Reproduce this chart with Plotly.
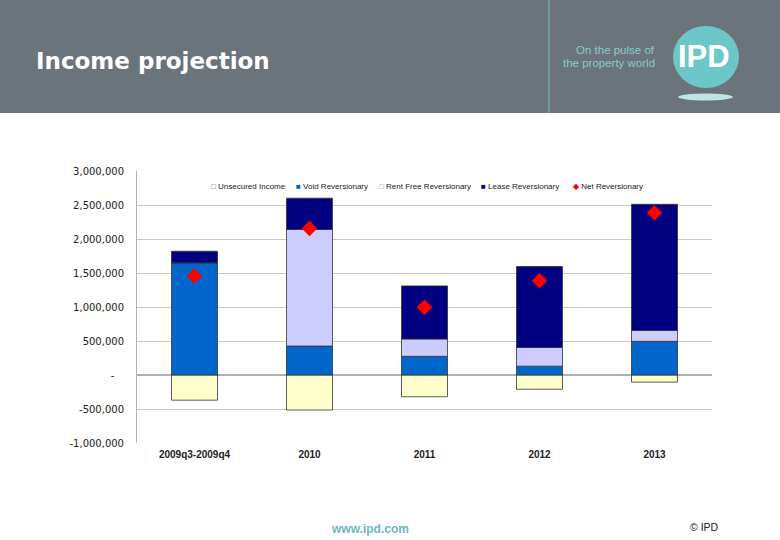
import plotly.graph_objects as go

categories = ["2009q3-2009q4", "2010", "2011", "2012", "2013"]
series_names = ["Unsecured Income", "Void Reversionary", "Rent Free Reversionary",
                "Lease Reversionary", "Net Reversionary"]
unsecured_income = [-370000, -515000, -320000, -210000, -105000]
void_reversionary = [1650000, 425000, 275000, 130000, 495000]
rent_free_reversionary = [0, 1715000, 255000, 275000, 160000]
lease_reversionary = [170000, 460000, 780000, 1190000, 1855000]
net_reversionary = [1455000, 2155000, 995000, 1385000, 2385000]

tick_vals = [-1000000, -500000, 0, 500000, 1000000, 1500000, 2000000, 2500000, 3000000]
tick_text = ["-1,000,000", "-500,000", "-\u00a0\u00a0\u00a0", "500,000", "1,000,000", "1,500,000",
             "2,000,000", "2,500,000", "3,000,000"]

colors = ["#FFFFCC", "#0066CC", "#CCCCFF", "#000080", "#FF0000"]

W, H = 780, 540
L, R, T, B = 137, 712, 171, 443

def px(x):
    return (x - L) / (R - L)

def py(y):
    return (B - y) / (B - T)

line = dict(color="#333333", width=0.8)
fig = go.Figure()
bar_series = [unsecured_income, void_reversionary, rent_free_reversionary, lease_reversionary]
for name, vals, col in zip(series_names[:4], bar_series, colors[:4]):
    fig.add_bar(x=categories, y=vals, name=name, marker=dict(color=col, line=line))
fig.add_scatter(x=categories, y=net_reversionary, name=series_names[4], mode="markers",
                marker=dict(symbol="diamond", color=colors[4], size=12, line=dict(width=0)))

shapes = [
    dict(type="rect", xref="paper", yref="paper", x0=px(0), x1=px(W), y0=py(113), y1=py(0),
         fillcolor="#6B737B", line=dict(width=0), layer="below"),
    dict(type="line", xref="paper", yref="paper", x0=px(549), x1=px(549), y0=py(113), y1=py(0),
         line=dict(color="#6CC5C5", width=1)),
    dict(type="circle", xref="paper", yref="paper", x0=px(673), x1=px(739), y0=py(88), y1=py(26),
         fillcolor="#6CC8C8", line=dict(width=0)),
    dict(type="circle", xref="paper", yref="paper", x0=px(678), x1=px(733), y0=py(100.5), y1=py(93.5),
         fillcolor="#BFE4E4", line=dict(width=0)),
]

legend_marks = ["□", "■", "□", "■", "◆"]
legend_mark_colors = ["#666666", colors[1], "#8888AA", colors[3], colors[4]]
legend_x = [209, 294, 377, 479, 571]

annotations = [
    dict(text="<b>Income projection</b>", xref="paper", yref="paper", x=px(34), y=py(61),
         xanchor="left", yanchor="middle", showarrow=False,
         font=dict(family="DejaVu Sans", size=23, color="white")),
    dict(text="On the pulse of", xref="paper", yref="paper", x=px(657), y=py(50),
         xanchor="right", yanchor="middle", showarrow=False,
         font=dict(family="Liberation Sans, Arial", size=11.5, color="#86CCCC")),
    dict(text="the property world", xref="paper", yref="paper", x=px(657), y=py(63),
         xanchor="right", yanchor="middle", showarrow=False,
         font=dict(family="Liberation Sans, Arial", size=11.5, color="#86CCCC")),
    dict(text="<b>IPD</b>", xref="paper", yref="paper", x=px(704), y=py(57),
         xanchor="center", yanchor="middle", showarrow=False,
         font=dict(family="Liberation Sans, Arial", size=31, color="white")),
    dict(text="<b>www.ipd.com</b>", xref="paper", yref="paper", x=px(370), y=py(529),
         xanchor="center", yanchor="middle", showarrow=False,
         font=dict(family="Liberation Sans, Arial", size=12, color="#6CB8C0")),
    dict(text="© IPD", xref="paper", yref="paper", x=px(704), y=py(527),
         xanchor="center", yanchor="middle", showarrow=False,
         font=dict(family="Liberation Sans, Arial", size=10.5, color="#222222")),
]
for name, mk, mc, lx in zip(series_names, legend_marks, legend_mark_colors, legend_x):
    annotations.append(dict(
        text=f'<span style="color:{mc}">{mk}</span> {name}', xref="paper", yref="paper",
        x=px(lx), y=py(186), xanchor="left", yanchor="middle", showarrow=False,
        font=dict(family="Liberation Sans, Arial", size=8, color="#222222")))

fig.update_layout(
    width=W, height=H,
    margin=dict(l=L, r=W - R, t=T, b=H - B, pad=0),
    paper_bgcolor="white", plot_bgcolor="white",
    barmode="relative", bargap=0.6,
    showlegend=False,
    font=dict(family="Liberation Sans, Arial", size=9, color="#222222"),
    shapes=shapes, annotations=annotations,
    xaxis=dict(showgrid=False, showline=False, ticks="",
               tickfont=dict(family="Liberation Sans, Arial", size=10, color="#222222"),
               tickprefix="<b>", ticksuffix="</b>", ticklabelstandoff=4),
    yaxis=dict(range=[-1000000, 3000000], tickvals=tick_vals, ticktext=tick_text,
               showgrid=True, gridcolor="#C8C8C8", gridwidth=1,
               zeroline=True, zerolinecolor="#B0B0B0", zerolinewidth=1.5,
               showline=True, linecolor="#B0B0B0", linewidth=1,
               ticks="", ticklabelstandoff=10,
               tickfont=dict(family="DejaVu Sans", size=10, color="#222222")),
)

fig.write_html("out.html", config={"displayModeBar": False},
               post_script="document.body.style.margin='0';")
